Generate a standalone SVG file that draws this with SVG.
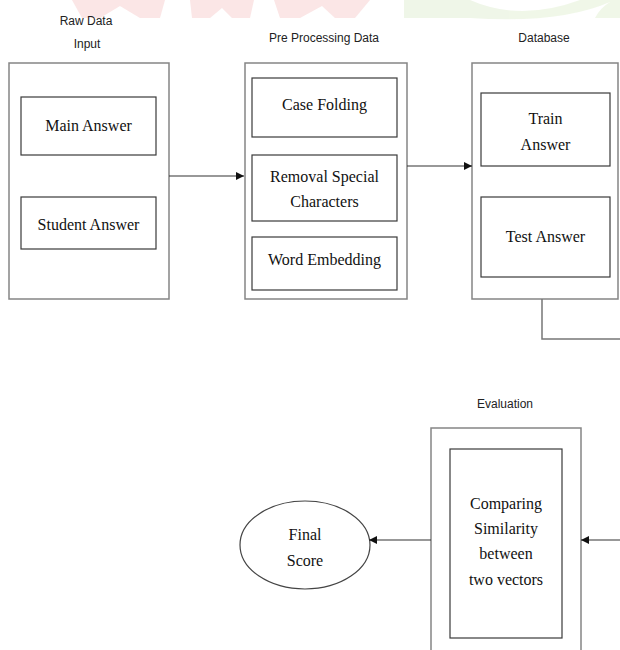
<svg xmlns="http://www.w3.org/2000/svg" width="620" height="650" viewBox="0 0 620 650">
<style>
.outer{fill:#fff;stroke:#858585;stroke-width:1.5}
.inner{fill:#fff;stroke:#3a3a3a;stroke-width:1.2}
.lbl{font-family:"Liberation Sans",Arial,sans-serif;font-size:12px;fill:#222;text-anchor:middle}
.txt{font-family:"Liberation Serif","Times New Roman",serif;font-size:16px;fill:#111;text-anchor:middle}
.conn{fill:none;stroke:#333;stroke-width:1.2}
.connG{fill:none;stroke:#777;stroke-width:1.5}
</style>
<defs>
<marker id="ah" viewBox="0 0 10 10" refX="10" refY="5" markerWidth="8" markerHeight="8" markerUnits="userSpaceOnUse" orient="auto">
<path d="M0,0 L10,5 L0,10 z" fill="#111"/>
</marker>
</defs>
<rect width="620" height="650" fill="#fff"/>
<g id="watermark" opacity="0.9">
<polygon points="72,0 165,0 160,18 140,18 120,6 100,18 82,18" fill="#fbe4e4"/>
<polygon points="190,0 254,0 250,18 232,18 222,8 210,18 192,18" fill="#fbe4e4"/>
<polygon points="274,0 370,0 355,18 335,18 322,6 300,18 280,18" fill="#fbe4e4"/>
<path d="M404,0 L470,0 Q520,22 580,0 L620,0 L620,18 L595,18 Q600,8 610,2 Q560,24 470,18 L404,18 z" fill="#eef6e6"/>
</g>
<g id="label-raw"><text class="lbl" x="86" y="25">Raw Data</text><text class="lbl" x="87" y="48">Input</text></g>
<g id="label-pre"><text class="lbl" x="324" y="42">Pre Processing Data</text></g>
<g id="label-db"><text class="lbl" x="544" y="42">Database</text></g>
<g id="label-eval"><text class="lbl" x="505" y="408">Evaluation</text></g>
<g id="raw-input">
<rect class="outer" x="9" y="63" width="160" height="236"/>
</g>
<g id="main-answer"><rect class="inner" x="21" y="97" width="135" height="58"/><text class="txt" x="88.5" y="131">Main Answer</text></g>
<g id="student-answer"><rect class="inner" x="21" y="197" width="135" height="52"/><text class="txt" x="88.5" y="230">Student Answer</text></g>
<g id="pre-processing">
<rect class="outer" x="245" y="63" width="162" height="236"/>
</g>
<g id="case-folding"><rect class="inner" x="252" y="78" width="145" height="59"/><text class="txt" x="324.5" y="110">Case Folding</text></g>
<g id="removal"><rect class="inner" x="252" y="155" width="145" height="66"/><text class="txt" x="324.5" y="182">Removal Special</text><text class="txt" x="324.5" y="207">Characters</text></g>
<g id="word-embedding"><rect class="inner" x="252" y="237" width="145" height="53"/><text class="txt" x="324.5" y="265">Word Embedding</text></g>
<g id="database">
<rect class="outer" x="472" y="63" width="146" height="236"/>
</g>
<g id="train-answer"><rect class="inner" x="481" y="93" width="129" height="73"/><text class="txt" x="545.5" y="124">Train</text><text class="txt" x="545.5" y="150">Answer</text></g>
<g id="test-answer"><rect class="inner" x="481" y="197" width="129" height="80"/><text class="txt" x="545.5" y="242">Test Answer</text></g>
<g id="evaluation">
<rect class="outer" x="431" y="428" width="150" height="240"/>
</g>
<g id="comparing"><rect class="inner" x="450" y="449" width="112" height="189"/><text class="txt" x="506" y="509">Comparing</text><text class="txt" x="506" y="534">Similarity</text><text class="txt" x="506" y="559">between</text><text class="txt" x="506" y="585">two vectors</text></g>
<g id="final-score"><ellipse cx="305" cy="545" rx="65" ry="44" fill="#fff" stroke="#444" stroke-width="1.2"/><text class="txt" x="305" y="540">Final</text><text class="txt" x="305" y="566">Score</text></g>
<g id="connectors">
<line class="conn" x1="169" y1="176" x2="244" y2="176" marker-end="url(#ah)"/>
<line class="conn" x1="407" y1="166" x2="472" y2="166" marker-end="url(#ah)"/>
<polyline class="connG" points="542,299 542,339 620,339"/>
<line class="conn" x1="620" y1="540" x2="581" y2="540" marker-end="url(#ah)"/>
<line class="conn" x1="431" y1="540" x2="369" y2="540" marker-end="url(#ah)"/>
</g>
</svg>
